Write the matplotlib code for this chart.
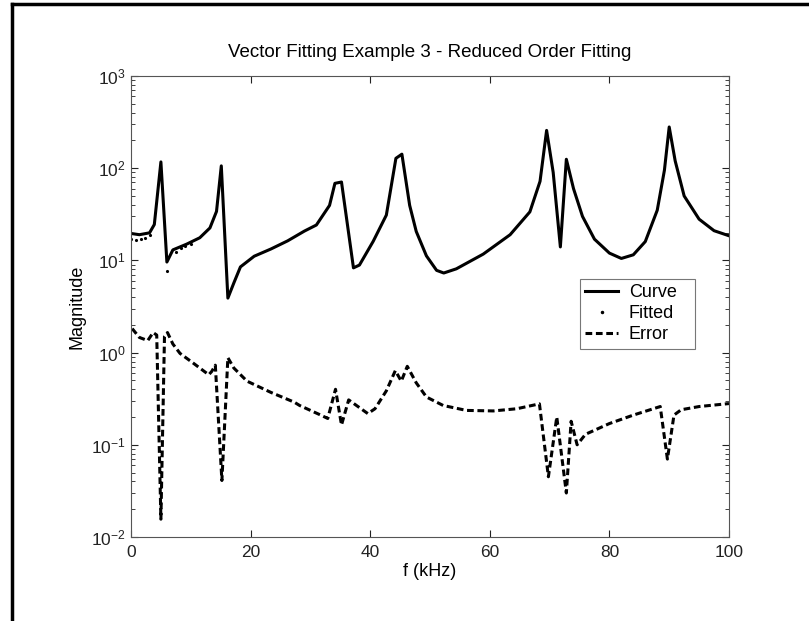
import matplotlib
matplotlib.use('Agg')
import matplotlib.pyplot as plt
from matplotlib.lines import Line2D

plt.rcParams['font.family'] = ['Liberation Sans', 'DejaVu Sans']
plt.rcParams['mathtext.default'] = 'regular'

# curve (magnitude)
curve_f = [0.0, 1.4, 3.1, 3.9, 5.0, 6.0, 7.0, 9.3, 11.5, 13.2, 14.3, 15.1,
           16.2, 17.2, 18.3, 20.6, 23.4, 26.2, 29.0, 31.0, 33.2, 34.1, 35.2,
           37.2, 38.2, 40.5, 42.7, 44.3, 45.3, 46.6, 47.7, 49.4, 51.1, 52.3,
           54.4, 58.9, 63.4, 66.7, 68.4, 69.5, 70.6, 71.8, 72.8, 74.0, 75.5,
           77.5, 80.0, 82.0, 84.0, 86.0, 88.0, 89.2, 90.0, 91.0, 92.5, 95.0,
           97.5, 100.0]
curve_mag = [19.6, 19.0, 19.9, 24.5, 117, 9.6, 13.0, 15.0, 17.6, 22.5, 34,
             106, 3.9, 5.7, 8.5, 11.1, 13.3, 16.3, 20.8, 24.2, 39.5, 68.5,
             70.8, 8.3, 8.9, 16.1, 31, 128, 142, 39.5, 20.6, 11.2, 7.8, 7.3,
             8.1, 11.7, 19.0, 33.6, 72, 257, 90, 14, 125, 60, 30, 17, 12,
             10.5, 11.5, 16, 35, 95, 280, 120, 50, 28, 21, 18.5]

# fitted points that show outside the curve
fitted_f = [0.0, 0.8, 1.6, 2.4, 3.2, 6.1, 7.5, 8.3, 9.1, 10.0]
fitted_mag = [17.0, 16.8, 17.0, 17.5, 19.0, 7.6, 12.3, 13.5, 14.2, 15.0]

# error curve
err_f = [0.2, 1.4, 2.8, 3.7, 4.3, 5.0, 5.6, 6.1, 7.0, 8.2, 10.4, 13.0, 13.5,
         14.1, 15.2, 16.2, 17.2, 19.4, 23.4, 27.3, 28.2, 31.8, 32.9, 34.2,
         35.2, 36.4, 39.6, 40.8, 42.7, 44.2, 45.2, 46.2, 47.7, 49.4, 52.2,
         56.1, 60.6, 64.5, 68.3, 69.8, 71.2, 72.8, 73.6, 74.6, 76.0, 80.0,
         84.0, 88.5, 89.7, 90.8, 92.0, 95.0, 100.0]
err_mag = [1.82, 1.46, 1.35, 1.65, 1.55, 0.0156, 1.5, 1.65, 1.24, 0.98, 0.77,
           0.575, 0.625, 0.73, 0.041, 0.88, 0.68, 0.49, 0.37, 0.29, 0.267,
           0.209, 0.193, 0.40, 0.164, 0.307, 0.218, 0.246, 0.385, 0.637, 0.49,
           0.71, 0.47, 0.33, 0.267, 0.236, 0.233, 0.246, 0.278, 0.045, 0.2,
           0.03, 0.18, 0.1, 0.13, 0.17, 0.21, 0.26, 0.07, 0.21, 0.24, 0.26,
           0.28]

xticks = [0, 20, 40, 60, 80, 100]
yticks = [1e-2, 1e-1, 1e0, 1e1, 1e2, 1e3]
ytick_labels = [r'$10^{-2}$', r'$10^{-1}$', r'$10^{0}$', r'$10^{1}$',
                r'$10^{2}$', r'$10^{3}$']

fig = plt.figure(figsize=(8.09, 6.21), dpi=100)
ax = fig.add_axes([131 / 809, 84 / 621, 598 / 809, 461 / 621])

ax.semilogy(curve_f, curve_mag, 'k-', lw=2.2, label='Curve')
ax.semilogy(fitted_f, fitted_mag, 'k.', ms=2.5, label='Fitted')
ax.semilogy(err_f, err_mag, 'k--', lw=2.2, dashes=(2.2, 1.2), label='Error')

ax.set_xlim(0, 100)
ax.set_ylim(1e-2, 1e3)
ax.set_xticks(xticks)
ax.set_yticks(yticks)
ax.set_yticklabels(ytick_labels)
ax.tick_params(which='both', direction='in', top=True, right=True,
               labelsize=12.5, colors='#222222')
ax.tick_params(which='major', length=5)
ax.tick_params(which='minor', length=3)
ax.tick_params(axis='x', pad=6)
ax.tick_params(axis='y', pad=4)
for s in ax.spines.values():
    s.set_color('#555555')
    s.set_linewidth(0.8)

ax.set_title('Vector Fitting Example 3 - Reduced Order Fitting', fontsize=13.5,
             pad=14)
ax.set_xlabel('f (kHz)', fontsize=13, labelpad=2)
ax.set_ylabel('Magnitude', fontsize=13, labelpad=4)

# legend box spans 580..695 px across, starts at 279 px from the top
leg = ax.legend(loc='upper left',
                bbox_to_anchor=(580 / 809, 1 - 349 / 621, 115 / 809, 70 / 621),
                bbox_transform=fig.transFigure, mode='expand', fontsize=13,
                frameon=True, fancybox=False, handlelength=1.8,
                handletextpad=0.6, borderpad=0.3, labelspacing=0.22,
                borderaxespad=0, markerscale=1.2)
leg.get_frame().set_edgecolor('#555555')
leg.get_frame().set_linewidth(0.8)

# figure frame on the left and top
fig.add_artist(Line2D([12 / 809, 12 / 809], [0, 1 - 4 / 621], color='k',
                      lw=2.5, transform=fig.transFigure))
fig.add_artist(Line2D([12 / 809, 1], [1 - 4 / 621, 1 - 4 / 621], color='k',
                      lw=2.5, transform=fig.transFigure))

fig.savefig('out.png', dpi=100)
